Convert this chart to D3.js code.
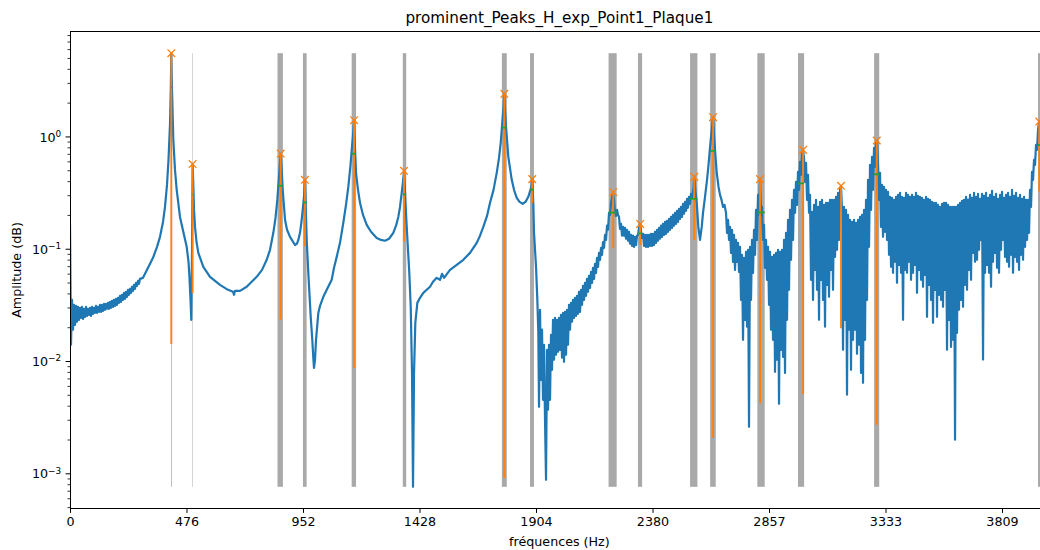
<!DOCTYPE html>
<html><head><meta charset="utf-8">
<script src="https://cdn.jsdelivr.net/npm/d3@7"></script>
<style>
html,body{margin:0;padding:0;background:#fff;}
svg{display:block;font-family:"DejaVu Sans",sans-serif;}
</style>
</head><body>
<svg id="chart" width="1040" height="550"></svg>
<script>
// ---------------- data ----------------
const chartTitle = "prominent_Peaks_H_exp_Point1_Plaque1";
const xLabel = "fréquences (Hz)";
const yLabel = "Amplitude (dB)";
const xDomain = [0, 4000];
const yDomain = [0.000491, 8.69];
const xTickValues = [0, 476.1, 952.2, 1428.3, 1904.4, 2380.5, 2856.6, 3332.7, 3808.8];
const xTickLabels = ["0", "476", "952", "1428", "1904", "2380", "2857", "3333", "3809"];
const yMajorExponents = [-3, -2, -1, 0];

// spectrum: uniform-bin noisy parts + smooth parts read as (Hz, amplitude)
const binHz = 4.0868;
const lowNoiseStartHz = 0;
const lowNoiseAmp = [0.168,0.0141,0.0354,0.0192,0.0320,0.0212,0.0313,0.0226,0.0307,0.0235,
 0.0301,0.0245,0.0307,0.0240,0.0295,0.0250,0.0307,0.0255,0.0295,0.0260,
 0.0301,0.0255,0.0307,0.0266,0.0301,0.0271,0.0313,0.0271,0.0307,0.0277,
 0.0320,0.0277,0.0320,0.0283,0.0326,0.0289,0.0326,0.0295,0.0333,0.0295,
 0.0340,0.0301,0.0347,0.0307,0.0354,0.0313,0.0362,0.0320,0.0369,0.0333,
 0.0385,0.0340,0.0393,0.0354,0.0409,0.0362,0.0418,0.0377,0.0435,0.0393,
 0.0444,0.0409,0.0463,0.0426,0.0482,0.0444,0.0502,0.0472,0.0523,0.0492,
 0.0545];
const curveA = [[298.3,0.0556],[318.8,0.0683],[339.2,0.0838],[355.6,0.105],[367.8,0.129],[380.1,0.175],[388.2,0.238],[396.4,0.374],[402.5,0.625],[408.6,1.28],[411.9,2.63],[414.0,5.57],[416.9,2.63],[422.2,0.942],[429.1,0.509],[436.0,0.338],[449.5,0.194],[463.0,0.143],[476.9,0.105],[484.3,0.0772],[488.4,0.0556],[492.5,0.0354],[495.7,0.0235],[498.6,0.0988],[500.2,0.275],[501.4,0.573],[503.9,0.374],[506.8,0.224],[510.9,0.158],[517.0,0.116],[524.4,0.0928],[544.8,0.0697],[572.2,0.0568],[613.0,0.0482],[645.7,0.0435],[666.1,0.0418],[670.2,0.0393],[674.3,0.0426],[694.8,0.0426],[722.1,0.0463],[763.0,0.0568],[784.7,0.0655],[803.9,0.0805],[817.4,0.0988],[830.9,0.140],[839.9,0.190],[847.2,0.275],[855.4,0.479],[861.1,0.711],[866.4,0.460],[869.3,0.338],[878.7,0.183],[886.9,0.149],[899.1,0.129],[919.5,0.109],[927.7,0.112],[933.0,0.121],[940.0,0.140],[946.9,0.183],[952.2,0.238],[956.3,0.293],[960.4,0.415],[963.7,0.224],[967.4,0.121],[973.9,0.0616],[983.7,0.0250],[990.2,0.0156],[994.3,0.0108],[997.2,0.00878],[1001.3,0.0104],[1005.4,0.0156],[1014.8,0.0271],[1021.7,0.0313],[1035.2,0.0377],[1049.1,0.0435],[1069.5,0.0534],[1078.9,0.0683],[1089.9,0.0855],[1103.4,0.114],[1116.9,0.172],[1127.9,0.248],[1137.4,0.359],[1146.4,0.564],[1151.3,0.768],[1156.6,1.04],[1160.7,1.41],[1164.8,0.768],[1168.9,0.479],[1177.0,0.338],[1185.2,0.259],[1197.4,0.202],[1212.6,0.165],[1230.1,0.143],[1253.4,0.126],[1271.0,0.121],[1287.3,0.119],[1303.7,0.124],[1321.3,0.140],[1332.3,0.162],[1341.7,0.194],[1348.6,0.238],[1355.6,0.318],[1360.9,0.398],[1365.0,0.499],[1370.3,0.275],[1376.1,0.158],[1381.3,0.0988],[1386.6,0.0616],[1392.4,0.0307],[1397.7,0.00793],[1401.8,0.000766],[1405.9,0.00793],[1411.2,0.0221],[1419.4,0.0333],[1430.4,0.0369],[1443.9,0.0409],[1471.2,0.0463],[1483.5,0.0513],[1498.6,0.0556],[1512.1,0.0534],[1520.3,0.0604],[1528.5,0.0556],[1553.0,0.0655],[1580.4,0.0726],[1607.3,0.0805],[1634.7,0.0928],[1662.1,0.114],[1675.6,0.132],[1689.1,0.158],[1704.2,0.198],[1716.5,0.259],[1730.8,0.338],[1743.9,0.479],[1753.2,0.651],[1760.2,0.886],[1768.4,1.51],[1772.5,1.93],[1774.9,2.42],[1777.8,1.74],[1781.9,1.23],[1791.3,0.665],[1805.2,0.415],[1814.6,0.338],[1825.6,0.287],[1837.1,0.264],[1850.2,0.254],[1861.6,0.264],[1873.0,0.293],[1885.3,0.359],[1889.4,0.421],[1893.5,0.248],[1896.3,0.140],[1904.5,0.0697],[1909.8,0.0354],[1913.9,0.0180]];
const midNoiseStartHz = 1916.7;
const midNoiseAmp = [0.00395,0.0289,0.00687,0.0192,0.00456,0.0141,0.00303,0.000884,0.0127,0.00372,
 0.0141,0.00456,0.0173,0.00843,0.0235,0.0104,0.0245,0.0115,0.0235,0.0122,
 0.0245,0.0127,0.0260,0.0108,0.0271,0.00994,0.0277,0.0115,0.0289,0.0141,
 0.0320,0.0192,0.0333,0.0226,0.0354,0.0245,0.0369,0.0255,0.0385,0.0266,
 0.0418,0.0277,0.0435,0.0320,0.0472,0.0354,0.0502,0.0385,0.0545,0.0418,
 0.0580,0.0453,0.0629,0.0502,0.0683,0.0545,0.0741,0.0616,0.0838,0.0697,
 0.0928,0.0805,0.1029,0.0892,0.116,0.103,0.134,0.121,0.162,0.149,
 0.211,0.202,0.259,0.287,0.322,0.275,
 0.215,0.198,0.224,0.202,0.194,0.152,0.168,0.132,0.158,0.132,
 0.155,0.124,0.149,0.119,0.143,0.112,0.134,0.107,0.132,0.105,
 0.129,0.109,0.132,0.134,0.155,0.168,0.143,0.126,0.137,0.107,
 0.134,0.105,0.134,0.105,0.134,0.107,0.137,0.107,0.137,0.109,
 0.143,0.114,0.149,0.119,0.155,0.124,0.162,0.129,0.168,0.134,
 0.175,0.137,0.179,0.143,0.186,0.149,0.194,0.155,0.202,0.162,
 0.211,0.168,0.220,0.175,0.229,0.186,0.238,0.194,0.254,0.207,
 0.264,0.220,0.281,0.234,0.293,0.254,0.311,0.287];
const curveC = [[2548.2,0.352],[2551.4,0.441],[2556.3,0.324],[2561.2,0.259],[2567.7,0.158],[2574.7,0.121],[2581.6,0.158],[2586.9,0.211],[2595.1,0.293],[2603.3,0.415],[2608.6,0.542],[2618.4,0.942],[2623.7,1.21],[2627.8,1.50],[2631.9,1.04],[2636.0,0.768],[2643.0,0.479],[2650.3,0.359],[2656.4,0.305],[2662.6,0.275],[2668.7,0.238],[2674.8,0.248]];
const highNoiseStartHz = 2680.9;
const highNoiseAmp = [0.211,0.140,0.183,0.121,0.158,0.0928,0.149,0.0772,0.134,0.0655,
 0.121,0.0772,0.114,0.0629,0.105,0.0354,0.0892,0.0156,0.0838,0.0235,
 0.0948,0.0204,0.0988,0.00262,0.105,0.0354,0.121,0.0616,0.149,0.0892,
 0.224,0.121,0.305,0.202,0.423,0.202,0.238,0.121,0.165,0.0683,
 0.121,0.0534,0.105,0.0320,0.0948,0.0192,0.0855,0.0156,0.0892,0.0081,
 0.0928,0.0104,0.0988,0.0042,0.0948,0.0127,0.0988,0.0110,0.121,0.0079,
 0.140,0.0235,0.183,0.0435,0.224,0.0805,0.275,0.121,0.338,0.211,
 0.398,0.248,0.489,0.338,0.600,0.460,0.693,0.768,0.651,0.398,
 0.588,0.275,0.460,0.211,0.305,0.0534,0.215,0.0354,0.248,0.0655,
 0.275,0.0435,0.238,0.0235,0.264,0.0534,0.275,0.0354,0.248,0.0204,
 0.259,0.0482,0.259,0.0377,0.275,0.0655,0.275,0.0435,0.275,0.0855,
 0.293,0.0988,0.318,0.121,0.338,0.367,0.224,0.0127,0.238,0.0235,
 0.224,0.00506,0.202,0.0192,0.183,0.00843,0.175,0.0156,0.183,0.0192,
 0.172,0.0117,0.183,0.0141,0.194,0.0079,0.202,0.00646,0.224,0.0156,
 0.275,0.0354,0.415,0.105,0.564,0.224,0.665,0.338,0.800,0.542,
 0.886,0.929,0.564,0.275,0.479,0.158,0.374,0.129,0.359,0.143,
 0.338,0.121,0.324,0.0892,0.293,0.0697,0.287,0.0616,0.275,0.0772,
 0.293,0.0502,0.305,0.0726,0.318,0.0616,0.293,0.0235,0.287,0.0655,
 0.318,0.0616,0.305,0.0772,0.293,0.0534,0.305,0.0616,0.293,0.0726,
 0.318,0.0409,0.299,0.0655,0.293,0.0534,0.287,0.0463,0.275,0.0592,
 0.293,0.0250,0.281,0.0482,0.275,0.0354,0.264,0.0221,0.259,0.0435,
 0.259,0.0250,0.248,0.0393,0.238,0.0354,0.254,0.0307,0.259,0.0435,
 0.259,0.0127,0.248,0.0235,0.238,0.0135,0.238,0.0156,0.238,0.00201,
 0.238,0.0180,0.248,0.0289,0.259,0.0354,0.270,0.0307,0.275,0.0482,
 0.293,0.0435,0.276,0.0655,0.305,0.0534,0.287,0.0928,0.318,0.0772,
 0.293,0.0805,0.311,0.0988,0.281,0.121,0.311,0.0104,0.299,0.0616,
 0.318,0.0726,0.287,0.0616,0.305,0.0463,0.331,0.0772,0.293,0.0928,
 0.311,0.0683,0.281,0.0616,0.305,0.0988,0.324,0.121,0.287,0.0855,
 0.305,0.0772,0.318,0.0697,0.293,0.0892,0.338,0.0616,0.299,0.0855,
 0.318,0.0772,0.287,0.0655,0.305,0.0892,0.281,0.0805,0.293,0.105,
 0.275,0.121,0.275,0.140,0.338,0.238,0.489,0.415,0.625,0.564,
 0.850,0.768,1.16,1.37,1.28,0.942,0.564,0.338];

// peaks (scipy find_peaks style): position, height, contour (height - prominence), width interval
const peakHz    = [414, 501, 861, 960, 1161, 1365, 1775, 1889, 2220, 2330, 2551, 2628, 2820, 2996, 3151, 3297, 3961];
const peakAmp   = [5.57, 0.573, 0.711, 0.415, 1.41, 0.499, 2.42, 0.421, 0.322, 0.168, 0.441, 1.50, 0.421, 0.767, 0.367, 0.929, 1.37];
const peakBase  = [0.0143, 0.0406, 0.0235, 0.106, 0.00874, 0.117, 0.000916, 0.257, 0.102, 0.109, 0.121, 0.00208, 0.00425, 0.00513, 0.0198, 0.00273, 0.327];
const widthLeft = [413.5, 500.5, 848, 952, 1151, 1360, 1765, 1880, 2201, 2321, 2534, 2616, 2809, 2975, 3151, 3286, 3956];
const widthRight= [416.5, 502.5, 870, 967, 1169, 1374, 1785, 1896, 2234, 2338, 2564, 2639, 2839, 3000, 3151, 3307, 3975];

// ---------------- build ----------------
const spectrum = [];
lowNoiseAmp.forEach((a, i) => spectrum.push([lowNoiseStartHz + i * binHz, a]));
curveA.forEach(p => spectrum.push(p));
midNoiseAmp.forEach((a, i) => spectrum.push([midNoiseStartHz + i * binHz, a]));
curveC.forEach(p => spectrum.push(p));
highNoiseAmp.forEach((a, i) => spectrum.push([highNoiseStartHz + i * binHz, a]));

const peaks = peakHz.map((h, i) => ({
  hz: h, amp: peakAmp[i], base: peakBase[i], left: widthLeft[i], right: widthRight[i],
  half: (peakAmp[i] + peakBase[i]) / 2
}));

const L = 70, R = 1048.8, T = 31.5, B = 508.5;
const FS = 12.7;

const svg = d3.select("#chart");
const x = d3.scaleLinear().domain(xDomain).range([L, R]);
const y = d3.scaleLog().domain(yDomain).range([B, T]);

svg.append("defs").append("clipPath").attr("id", "clip")
  .append("rect").attr("x", L).attr("y", T).attr("width", R - L).attr("height", B - T);

const plot = svg.append("g").attr("clip-path", "url(#clip)");

const ampMin = d3.min(spectrum, d => d[1]);
const ampMax = d3.max(spectrum, d => d[1]);

// gray width bands
plot.append("g").selectAll("rect").data(peaks.filter(d => d.right > d.left)).join("rect")
  .attr("x", d => x(d.left))
  .attr("width", d => x(d.right) - x(d.left))
  .attr("y", y(ampMax))
  .attr("height", y(ampMin) - y(ampMax))
  .attr("fill", "#a9a9a9");

// spectrum line
plot.append("path").datum(spectrum)
  .attr("d", d3.line().x(d => x(d[0])).y(d => y(d[1])))
  .attr("fill", "none").attr("stroke", "#1f77b4")
  .attr("stroke-width", 2.2).attr("stroke-linejoin", "round");

// prominence lines
plot.append("g").selectAll("line").data(peaks).join("line")
  .attr("x1", d => x(d.hz)).attr("x2", d => x(d.hz))
  .attr("y1", d => y(d.base)).attr("y2", d => y(d.amp))
  .attr("stroke", "#ff7f0e").attr("stroke-width", 1.9);

// half-prominence width lines
plot.append("g").selectAll("line").data(peaks.filter(d => d.right > d.left)).join("line")
  .attr("x1", d => x(d.left)).attr("x2", d => x(d.right))
  .attr("y1", d => y(d.half)).attr("y2", d => y(d.half))
  .attr("stroke", "#2ca02c").attr("stroke-width", 1.9);

// peak markers
const ms = 3.8;
svg.append("g").selectAll("path").data(peaks).join("path")
  .attr("transform", d => `translate(${x(d.hz)},${y(d.amp)})`)
  .attr("d", `M${-ms},${-ms}L${ms},${ms}M${-ms},${ms}L${ms},${-ms}`)
  .attr("stroke", "#ff7f0e").attr("stroke-width", 1.3).attr("fill", "none");

// spines
const spines = svg.append("g").attr("stroke", "#000").attr("stroke-width", 1).attr("shape-rendering", "crispEdges");
spines.append("line").attr("x1", L).attr("x2", L).attr("y1", T).attr("y2", B);
spines.append("line").attr("x1", L).attr("x2", R).attr("y1", B).attr("y2", B);
spines.append("line").attr("x1", L).attr("x2", R).attr("y1", T).attr("y2", T);
spines.append("line").attr("x1", R).attr("x2", R).attr("y1", T).attr("y2", B);

// x axis
const xAxis = d3.axisBottom(x).tickValues(xTickValues)
  .tickFormat((d, i) => xTickLabels[i]).tickSize(4.4).tickPadding(4.2).tickSizeOuter(0);
const gx = svg.append("g").attr("transform", `translate(0,${B})`).call(xAxis);
gx.select(".domain").remove();
gx.selectAll("line").attr("stroke", "#000").attr("stroke-width", 1);
gx.selectAll("text").attr("fill", "#000").style("font-size", FS + "px").style("font-family", "DejaVu Sans");

// y axis: minor ticks
const minorVals = [];
for (let e = -4; e <= 0; e++) for (let m = 2; m <= 9; m++) {
  const v = m * Math.pow(10, e);
  if (v >= yDomain[0] && v <= yDomain[1]) minorVals.push(v);
}
svg.append("g").selectAll("line").data(minorVals).join("line")
  .attr("x1", L - 2.5).attr("x2", L).attr("y1", d => y(d)).attr("y2", d => y(d))
  .attr("stroke", "#000").attr("stroke-width", 0.8);

const majors = yMajorExponents.map(e => ({ e, v: Math.pow(10, e) }));
svg.append("g").selectAll("line").data(majors).join("line")
  .attr("x1", L - 4.4).attr("x2", L).attr("y1", d => y(d.v)).attr("y2", d => y(d.v))
  .attr("stroke", "#000").attr("stroke-width", 1);

const ylab = svg.append("g").selectAll("text").data(majors).join("text")
  .attr("x", L - 8.8).attr("y", d => y(d.v) + 4.6)
  .attr("text-anchor", "end").attr("fill", "#000")
  .style("font-size", FS + "px");
ylab.append("tspan").text("10");
ylab.append("tspan").attr("dy", -4.8).style("font-size", "8.9px")
  .text(d => d.e < 0 ? "\u2212" + Math.abs(d.e) : String(d.e));

// labels & title
svg.append("text").attr("x", (L + R) / 2).attr("y", 546).attr("text-anchor", "middle")
  .style("font-size", FS + "px").attr("fill", "#000").text(xLabel);
svg.append("text").attr("transform", `translate(21,${(T + B) / 2}) rotate(-90)`)
  .attr("text-anchor", "middle").style("font-size", FS + "px").attr("fill", "#000").text(yLabel);
svg.append("text").attr("x", (L + R) / 2).attr("y", 23).attr("text-anchor", "middle")
  .style("font-size", "15.2px").attr("fill", "#000").text(chartTitle);
</script>
</body></html>
